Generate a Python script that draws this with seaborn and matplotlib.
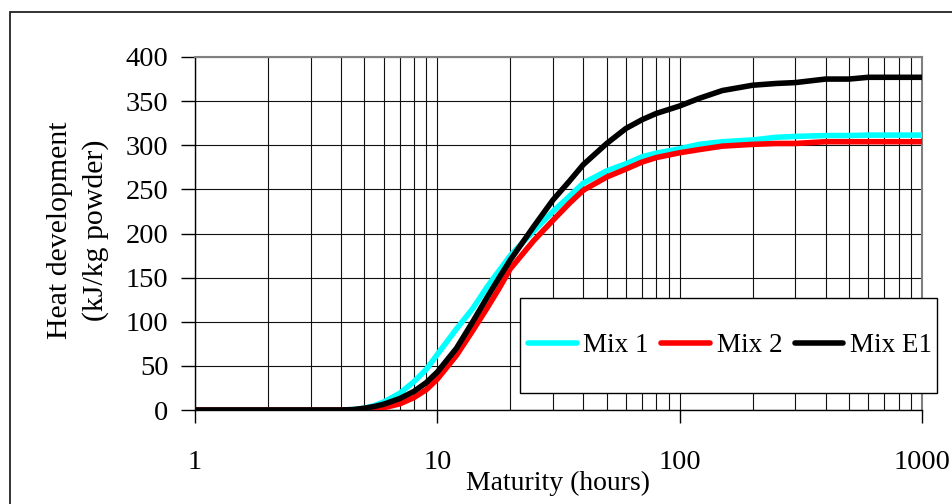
import numpy as np
import pandas as pd
import matplotlib
matplotlib.use("Agg")
import matplotlib.pyplot as plt
import matplotlib.patches as mpatches
from matplotlib.ticker import LogLocator, NullFormatter, FixedLocator
import seaborn as sns

# ---- data ----
maturity_h = [1, 2, 3, 4, 4.5, 5, 5.5, 6, 7, 8, 9, 10, 12, 14, 16, 18, 20, 25, 30,
              35, 40, 50, 60, 70, 80, 100, 120, 150, 200, 250, 300, 400, 500, 600, 800, 1000]
mix1 = [0, 0, 0, 0, 0.5, 2, 5, 9, 19, 32, 46, 63, 92, 115, 139, 158, 175, 203, 225,
        242, 257, 271, 279, 287, 291, 296, 301, 304, 306, 309, 310, 311, 311, 311.5, 311.5, 311.5]
mix2 = [0, 0, 0, 0, 0, 0, 1, 2.5, 7, 14, 23, 35, 62, 90, 115, 138, 160, 192, 215,
        234, 249, 264, 273, 281, 286, 291.5, 295, 299, 301, 302, 302, 304, 304, 304, 304, 304]
mixE1 = [0, 0, 0, 0, 0.5, 2, 4, 6.5, 13, 21, 31, 43, 70, 100, 127, 150, 170, 208, 238,
         259, 278, 302, 319, 329, 336, 344.5, 353, 362, 368, 370, 371, 375, 375, 377, 377, 377]
series_names = ["Mix 1", "Mix 2", "Mix E1"]
series_colors = ["#00FFFF", "#FF0000", "#000000"]
y_ticks = [0, 50, 100, 150, 200, 250, 300, 350, 400]
x_ticks = [1, 10, 100, 1000]
x_tick_labels = ["1", "10", "100", "1000"]

df = pd.DataFrame({
    "Maturity": maturity_h * 3,
    "Heat": mix1 + mix2 + mixE1,
    "Mix": sum([[n] * len(maturity_h) for n in series_names], []),
})

sns.set_theme(style="white")
plt.rcParams["font.family"] = ["Liberation Serif", "DejaVu Serif"]

fig = plt.figure(figsize=(9.52, 5.04), dpi=100)
ax = fig.add_axes([195 / 952, 1 - 410 / 504, 727 / 952, 353 / 504])

sns.lineplot(data=df, x="Maturity", y="Heat", hue="Mix", hue_order=series_names,
             palette=series_colors, lw=4.0, ax=ax, legend=True,
             solid_capstyle="round", solid_joinstyle="round", zorder=3)

ax.set_xscale("log")
ax.set_xlim(1, 1000)
ax.set_ylim(0, 400)
ax.xaxis.set_major_locator(FixedLocator(x_ticks))
ax.set_xticklabels(x_tick_labels)
ax.xaxis.set_minor_locator(LogLocator(base=10, subs=np.arange(2, 10)))
ax.xaxis.set_minor_formatter(NullFormatter())
ax.set_yticks(y_ticks)

ax.grid(True, which="both", axis="x", color="#111111", lw=0.8)
ax.grid(True, which="major", axis="y", color="#111111", lw=0.8)
ax.set_axisbelow(True)

ax.tick_params(axis="x", which="major", direction="out", length=9, width=1,
               color="black", labelsize=20.5, pad=20, labelcolor="black", bottom=True)
ax.tick_params(axis="x", which="minor", length=0)
ax.tick_params(axis="y", which="major", direction="out", length=10, width=1,
               color="black", labelsize=20.5, pad=9, labelcolor="black", left=True)

for s in ["left", "bottom"]:
    ax.spines[s].set_color("black")
    ax.spines[s].set_linewidth(1.0)
for s in ["top", "right"]:
    ax.spines[s].set_color("#808080")
    ax.spines[s].set_linewidth(1.5)

ax.set_xlabel("Maturity (hours)", fontsize=20, color="black")
ax.xaxis.set_label_coords(0.5, -0.172)
ax.xaxis.label.set_va("top")
ax.set_ylabel("Heat development\n(kJ/kg powder)", fontsize=21.5, color="black",
              linespacing=1.4)
ax.yaxis.label.set_va("center")
ax.yaxis.set_label_coords(-0.161, 0.51)

# legend
handles, labels = ax.get_legend_handles_labels()
for h in handles:
    h.set_solid_capstyle("round")
frame = mpatches.Rectangle(((520 - 195) / 727, (410 - 393) / 353),
                           (937 - 520) / 727, (393 - 298) / 353,
                           transform=ax.transAxes, facecolor="white",
                           edgecolor="black", lw=1.0, zorder=4, clip_on=False)
ax.add_patch(frame)
leg = ax.legend(handles, labels, loc="center", bbox_to_anchor=(0.7359, 0.1827),
                ncol=3, frameon=False, fontsize=19.5, handlelength=1.8,
                handletextpad=0.25, columnspacing=0.45, borderpad=0)
leg.set_zorder(5)
for t in leg.get_texts():
    t.set_color("black")

# figure border
border = mpatches.Rectangle((10 / 952, -0.2), 1.5, 1.2 - 12 / 504,
                            transform=fig.transFigure, fill=False,
                            edgecolor="#222222", lw=1.3)
fig.patches.append(border)

fig.savefig("out.png", dpi=100)
